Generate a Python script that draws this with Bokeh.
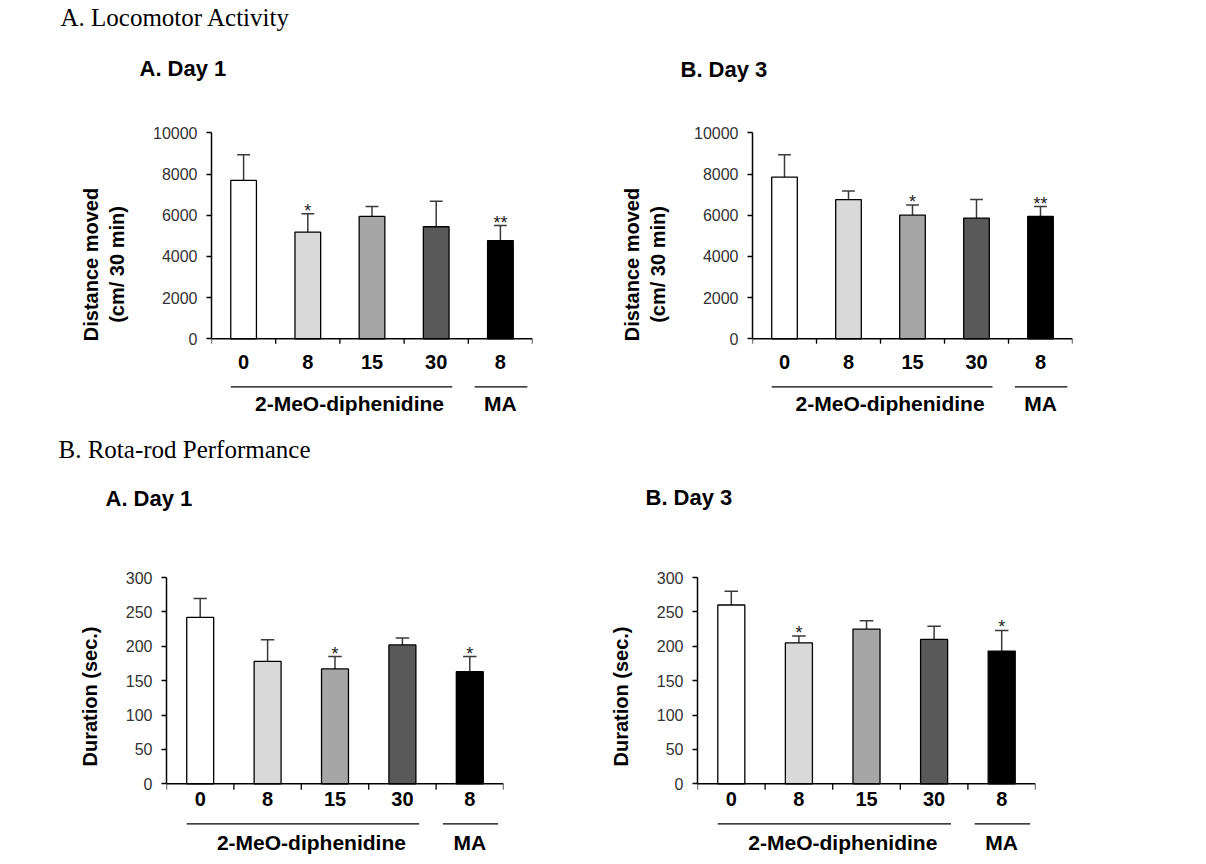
from bokeh.plotting import figure
from bokeh.models import ColumnDataSource, Range1d, FixedTicker, LinearAxis, Title, Grid
from bokeh.layouts import column, row
from bokeh.embed import file_html
from bokeh.resources import INLINE
from bokeh.core.properties import value

# ---------------- data ----------------
doses = ["0", "8", "15", "30", "8"]
groups = ["2-MeO-diphenidine", "MA"]
bar_colors = ["#ffffff", "#d9d9d9", "#a6a6a6", "#595959", "#000000"]

loco_day1_mean = [7690, 5180, 5940, 5440, 4770]
loco_day1_err = [1240, 890, 480, 1240, 730]
loco_day1_sig = ["", "*", "", "", "**"]

loco_day3_mean = [7850, 6760, 6000, 5860, 5940]
loco_day3_err = [1080, 410, 500, 900, 480]
loco_day3_sig = ["", "", "*", "", "**"]

rota_day1_mean = [242, 178, 167, 202, 163]
rota_day1_err = [27.5, 31.5, 18, 10, 22]
rota_day1_sig = ["", "", "*", "", "*"]

rota_day3_mean = [260, 205, 225, 210, 193]
rota_day3_err = [20, 10, 12, 19, 30]
rota_day3_sig = ["", "*", "", "", "*"]

loco_ticks = [0, 2000, 4000, 6000, 8000, 10000]
rota_ticks = [0, 50, 100, 150, 200, 250, 300]

SANS = "Liberation Sans"
SERIF = "Liberation Serif"


def make_panel(means, errs, sig, ticks, ylabel, titles, g):
    n = len(means)
    xs = list(range(n))
    ymax = ticks[-1]
    ppu = (g["baseline"] - g["axis_top"]) / ymax      # pixels per data unit
    frame_bottom = g["height"] - g["bottom"]
    yend = ymax + (g["axis_top"] - g["F"]) / ppu
    ystart = -(frame_bottom - g["baseline"]) / ppu

    p = figure(width=g["width"], height=g["height"],
               x_range=Range1d(-0.5, n - 0.5), y_range=Range1d(ystart, yend),
               output_backend="svg", toolbar_location=None,
               x_axis_location=None, y_axis_location=None,
               min_border_left=g["left"], min_border_right=g["right"],
               min_border_top=g["F"], min_border_bottom=g["bottom"])
    p.outline_line_color = None
    p.background_fill_color = "white"
    p.border_fill_color = "white"
    for r in list(p.center):
        if isinstance(r, Grid):
            r.visible = False

    upper = [m + e for m, e in zip(means, errs)]
    src = ColumnDataSource(dict(x=xs, mean=means, upper=upper, color=bar_colors,
                                sig=sig, cl=[x - 0.1 for x in xs], cr=[x + 0.1 for x in xs]))

    # error bars (upper only)
    p.segment(x0="x", y0="mean", x1="x", y1="upper", source=src,
              line_color="#3a3a3a", line_width=1.5)
    p.segment(x0="cl", y0="upper", x1="cr", y1="upper", source=src,
              line_color="#3a3a3a", line_width=1.5)
    # bars
    p.vbar(x="x", top="mean", bottom=0, width=0.4, source=src,
           fill_color="color", line_color="black", line_width=1.3)
    # significance stars
    p.text(x="x", y="upper", text="sig", source=src, text_align="center",
           text_baseline="alphabetic", y_offset=-3, text_font=value(SANS),
           text_font_size="18px", text_color="#222222")

    # x axis drawn at y = 0
    bounds = [x - 0.5 for x in xs] + [n - 0.5]
    p.segment(x0=[-0.5], y0=[0], x1=[n - 0.5], y1=[0], line_color="black", line_width=1.5)
    p.segment(x0=bounds, y0=[0] * len(bounds), x1=bounds,
              y1=[-g["tick_px"] / ppu] * len(bounds), line_color="black", line_width=1.3)
    p.text(x=xs, y=[-g["dose_px"] / ppu] * n, text=doses, text_align="center",
           text_baseline="middle", text_font=value(SANS), text_font_size="20px",
           text_font_style="bold", text_color="black")
    # group underlines and labels
    gy = -g["gline_px"] / ppu
    p.segment(x0=[-0.2, 3.6], y0=[gy, gy], x1=[3.25, 4.42], y1=[gy, gy],
              line_color="black", line_width=1.3)
    p.text(x=[1.65, 4.0], y=[-g["glabel_px"] / ppu] * 2, text=groups, text_align="center",
           text_baseline="middle", text_font=value(SANS), text_font_size="21px",
           text_font_style="bold", text_color="black")

    yaxis = LinearAxis(bounds=(0, ymax), ticker=FixedTicker(ticks=ticks, minor_ticks=[]),
                       axis_label=ylabel)
    yaxis.axis_line_width = 1.5
    yaxis.axis_line_color = "black"
    yaxis.major_tick_out = 5
    yaxis.major_tick_in = 0
    yaxis.major_tick_line_width = 1.3
    yaxis.minor_tick_out = 0
    yaxis.minor_tick_in = 0
    yaxis.major_label_text_font = SANS
    yaxis.major_label_text_font_size = "16px"
    yaxis.major_label_text_color = "#333333"
    yaxis.major_label_standoff = 9
    yaxis.axis_label_text_font = SANS
    yaxis.axis_label_text_font_size = "20px"
    yaxis.axis_label_text_font_style = "bold"
    yaxis.axis_label_text_color = "black"
    yaxis.axis_label_standoff = 22
    p.add_layout(yaxis, "left")

    for t in titles:
        p.add_layout(Title(text=t["text"], align="left", vertical_align="bottom",
                           offset=t["offset"], standoff=t["standoff"], text_font=t["font"],
                           text_font_size=t["size"], text_font_style=t["style"],
                           text_color="black"), "above")
    return p


row1 = dict(height=432, F=103, bottom=7, axis_top=132.3, baseline=338.3, tick_px=5,
            dose_px=23, gline_px=48, glabel_px=65)
row2 = dict(height=430, F=99, bottom=1, axis_top=145, baseline=351.3, tick_px=6,
            dose_px=15, gline_px=40, glabel_px=59)

g1 = dict(row1, width=560, left=211, right=28)
g2 = dict(row1, width=640, left=192, right=128)
g3 = dict(row2, width=560, left=166, right=57)
g4 = dict(row2, width=640, left=137, right=165)

sub = dict(font=SANS, size="22px", style="bold")
head = dict(font=SERIF, size="25px", style="normal", standoff=0)

p1 = make_panel(loco_day1_mean, loco_day1_err, loco_day1_sig, loco_ticks,
                "Distance moved\n(cm/ 30 min)",
                [dict(sub, text="A. Day 1", offset=-72, standoff=46),
                 dict(head, text="A. Locomotor Activity", offset=-151)],
                g1)
p2 = make_panel(loco_day3_mean, loco_day3_err, loco_day3_sig, loco_ticks,
                "Distance moved\n(cm/ 30 min)",
                [dict(sub, text="B. Day 3", offset=-72, standoff=43)],
                g2)
p3 = make_panel(rota_day1_mean, rota_day1_err, rota_day1_sig, rota_ticks,
                "Duration (sec.)",
                [dict(sub, text="A. Day 1", offset=-61, standoff=42),
                 dict(head, text="B. Rota-rod Performance", offset=-108)],
                g3)
p4 = make_panel(rota_day3_mean, rota_day3_err, rota_day3_sig, rota_ticks,
                "Duration (sec.)",
                [dict(sub, text="B. Day 3", offset=-52, standoff=43)],
                g4)

layout = column(row(p1, p2), row(p3, p4))
open("out.html", "w").write(file_html(layout, INLINE))
